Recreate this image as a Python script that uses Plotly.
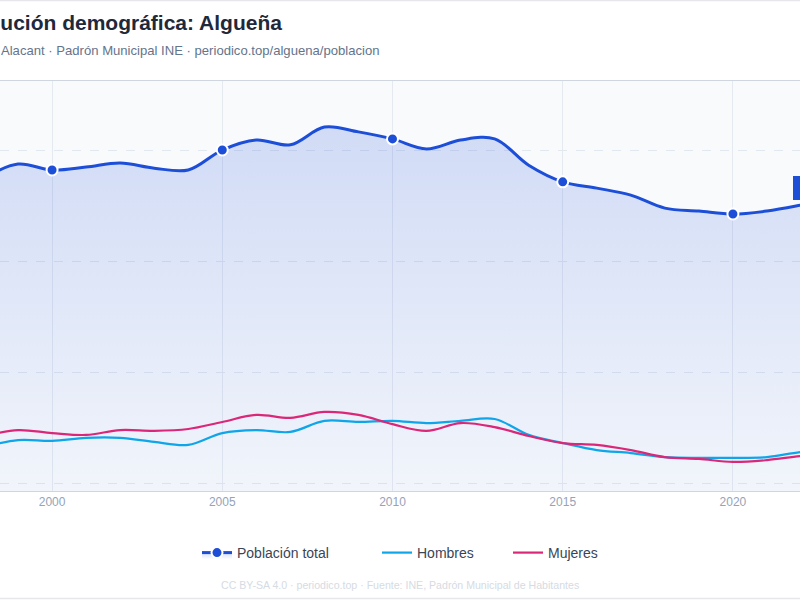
import plotly.graph_objects as go

# ---- data ----
years = list(range(1998, 2024))
total = [1424, 1462, 1446, 1454, 1465, 1451, 1446, 1500, 1527, 1514, 1562, 1549, 1530,
         1503, 1527, 1530, 1459, 1414, 1397, 1378, 1343, 1335, 1327, 1335, 1351, 1370]
hombres = [697, 716, 714, 722, 722, 711, 703, 735, 743, 738, 768, 765, 768,
           762, 768, 773, 730, 708, 689, 681, 670, 668, 668, 670, 684, 690]
mujeres = [727, 743, 735, 730, 743, 741, 746, 765, 784, 776, 792, 784, 759,
           741, 762, 751, 727, 708, 703, 689, 670, 665, 657, 662, 673, 680]
x_ticks = [2000, 2005, 2010, 2015, 2020]
y_grid = [600, 900, 1200, 1500]

title_text = "Evolución demográfica: Algueña"
subtitle_text = "Algueña · Alacant · Padrón Municipal INE · periodico.top/alguena/poblacion"
footer_text = "CC BY-SA 4.0 · periodico.top · Fuente: INE, Padrón Municipal de Habitantes"

# ---- style ----
FONT = "Liberation Sans, Arial, sans-serif"
C_TOTAL = "#1d4ed8"
C_H = "#0ea5e9"
C_M = "#db2777"
LEGEND_FONT = dict(family=FONT, size=14, color="#3b4556")

x_range = [2000 - 52 / 34, 2020 + 67 / 34]
y_range = [578.4, 1686.5]

marked = [i for i, yr in enumerate(years) if yr % 5 == 0 or i == len(years) - 1]

fig = go.Figure()

fig.add_trace(go.Scatter(
    x=years, y=total, name="Población total", legend="legend",
    mode="lines+markers",
    line=dict(color=C_TOTAL, width=3, shape="spline", smoothing=1),
    marker=dict(size=11, color=C_TOTAL, line=dict(color="white", width=2)),
    selectedpoints=marked,
    selected=dict(marker=dict(opacity=1)),
    unselected=dict(marker=dict(opacity=0)),
    fill="tozeroy",
    fillgradient=dict(
        type="vertical",
        start=y_range[0], stop=max(total),
        colorscale=[[0, "rgba(29,78,216,0.03)"], [1, "rgba(29,78,216,0.18)"]],
    ),
))
fig.add_trace(go.Scatter(
    x=years, y=hombres, name="Hombres", mode="lines", legend="legend2",
    line=dict(color=C_H, width=2.2, shape="spline", smoothing=1),
))
fig.add_trace(go.Scatter(
    x=years, y=mujeres, name="Mujeres", mode="lines", legend="legend3",
    line=dict(color=C_M, width=2.2, shape="spline", smoothing=1),
))

# last value label (paper-x computed from the data year and axis range)
last_frac = (years[-1] - x_range[0]) / (x_range[1] - x_range[0])
label = f"{total[-1]:,}".replace(",", ".") + " hab."
fig.add_annotation(
    x=last_frac, xref="paper", y=total[-1], yref="y",
    text="<b>" + "&nbsp;" * 3 + label + "&nbsp;" * 3 + "</b>",
    showarrow=False, xanchor="center", yanchor="middle", yshift=10,
    font=dict(family=FONT, size=11, color="white"),
    bgcolor=C_TOTAL, bordercolor=C_TOTAL, borderpad=5,
)

# title / subtitle / footer
fig.add_annotation(x=284 / 800, xref="paper", y=1.1415, yref="paper",
                   text=f"<b>{title_text}</b>", showarrow=False,
                   xanchor="right", yanchor="middle",
                   font=dict(family=FONT, size=21, color="#1e293b"))
fig.add_annotation(x=381 / 800, xref="paper", y=1.0732, yref="paper",
                   text=subtitle_text, showarrow=False,
                   xanchor="right", yanchor="middle",
                   font=dict(family=FONT, size=13.1, color="#64748b"))
fig.add_annotation(x=0.5, xref="paper", y=-0.2293, yref="paper",
                   text=footer_text, showarrow=False,
                   xanchor="center", yanchor="middle",
                   font=dict(family=FONT, size=10.6, color="#d6dbe3"))

# card border lines
for yy in (1.1963, -0.2622):
    fig.add_shape(type="line", xref="paper", yref="paper",
                  x0=-0.1, x1=1.1, y0=yy, y1=yy,
                  line=dict(color="#e5e7eb", width=1.5))

legend_common = dict(orientation="h", y=-0.1512, yanchor="middle", xanchor="left",
                     font=LEGEND_FONT, bgcolor="rgba(0,0,0,0)")
fig.update_layout(
    width=800, height=600,
    margin=dict(l=0, r=0, t=81, b=109),
    paper_bgcolor="white",
    plot_bgcolor="#f8fafc",
    font=dict(family=FONT, color="#334155"),
    showlegend=True,
    legend=dict(x=197 / 800, **legend_common),
    legend2=dict(x=377 / 800, **legend_common),
    legend3=dict(x=508 / 800, **legend_common),
    hovermode="x unified",
)
fig.update_xaxes(
    range=x_range, tickvals=x_ticks, ticktext=[str(v) for v in x_ticks],
    showgrid=True, gridcolor="#e5e9f0", gridwidth=1,
    showline=True, linecolor="#cfd6e0", linewidth=1, mirror=True,
    ticks="", tickfont=dict(family=FONT, size=12, color="#94a3b8"),
    zeroline=False, automargin=False,
)
fig.update_yaxes(
    range=y_range, tickvals=y_grid,
    showgrid=True, gridcolor="#e2e8f0", griddash="dash", gridwidth=1,
    showticklabels=False, zeroline=False, showline=False, automargin=False,
)

fig.write_html("out.html")
